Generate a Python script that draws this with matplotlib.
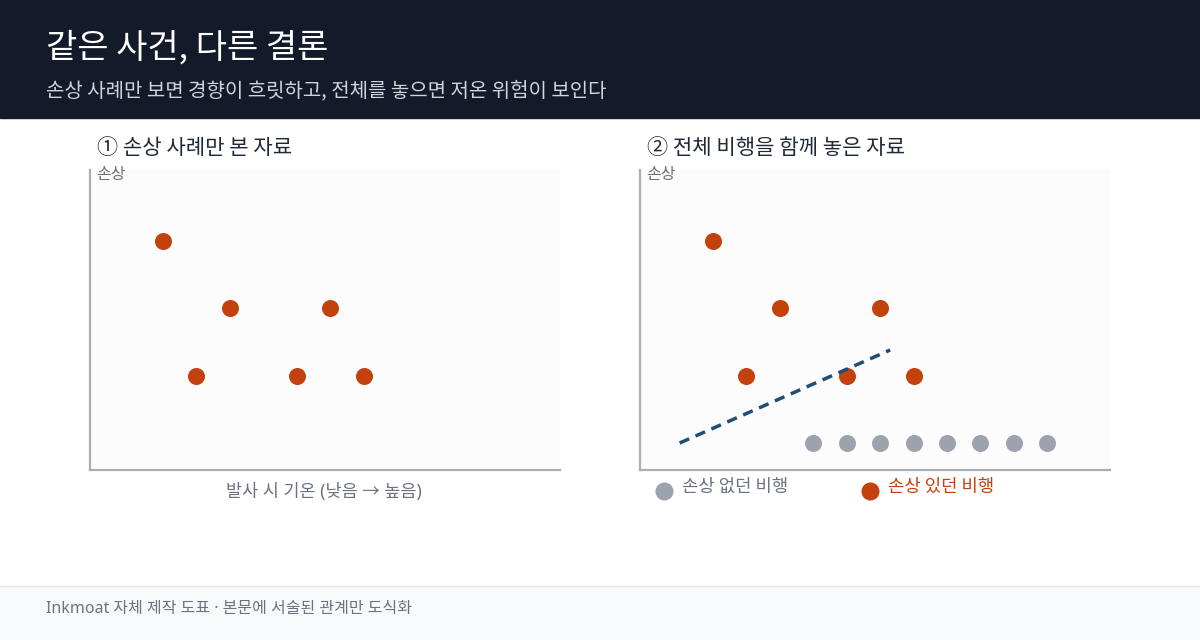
import matplotlib
matplotlib.use('Agg')
import matplotlib.pyplot as plt
from matplotlib.patches import Rectangle
from matplotlib.lines import Line2D

plt.rcParams['font.family'] = ['Noto Sans CJK KR', 'DejaVu Sans']
LATIN_FIRST = ['Noto Sans', 'Noto Sans CJK KR', 'DejaVu Sans']

# data: x = launch temperature rank (low -> high), y = damage level
damage_x = [1, 2, 3, 5, 6, 7]
damage_y = [3, 1, 2, 1, 2, 1]
nodamage_x = [4, 5, 6, 7, 8, 9, 10, 11]
nodamage_y = [0, 0, 0, 0, 0, 0, 0, 0]
trend_x = [0.0, 6.3]
trend_y = [0.0, 1.38]

title = '같은 사건, 다른 결론'
subtitle = '손상 사례만 보면 경향이 흐릿하고, 전체를 놓으면 저온 위험이 보인다'
panel_titles = ['① 손상 사례만 본 자료', '② 전체 비행을 함께 놓은 자료']
y_label = '손상'
x_label = '발사 시 기온 (낮음 → 높음)'
legend_labels = ['손상 없던 비행', '손상 있던 비행']
footer = 'Inkmoat 자체 제작 도표 · 본문에 서술된 관계만 도식화'

RED = '#c2410c'
GRAY = '#9ca3af'
NAVY = '#1f4e79'
SPINE = '#a9adb6'
MUTED = '#6b7280'

W, H = 1200, 640
fig = plt.figure(figsize=(W / 100, H / 100), dpi=100)
fig.patch.set_facecolor('white')

def px(x, y):
    return x / W, 1 - y / H

# header band and footer band
fig.add_artist(Rectangle((0, 1 - 118 / H), 1, 118 / H, transform=fig.transFigure, color='#131a2a', zorder=0))
fig.add_artist(Rectangle((0, 0), 1, 54 / H, transform=fig.transFigure, color='#f8f9fb', zorder=0))
fig.add_artist(Line2D([0, 1], [54 / H, 54 / H], transform=fig.transFigure, color='#e5e7eb', lw=1))
fig.text(*px(46, 48), title, color='white', fontsize=24.5, va='center', ha='left')
fig.text(*px(46, 91), subtitle, color='#d1d5db', fontsize=14.4, va='center', ha='left')
fig.text(*px(46, 609), footer, color=MUTED, fontsize=11.5, va='center', ha='left', family=LATIN_FIRST)

def make_axes(left):
    ax = fig.add_axes([left / W, 1 - 470 / H, 470 / W, 300 / H])
    ax.set_facecolor('#fcfcfd')
    ax.set_xlim(-1.186, 12.88)
    ax.set_ylim(-0.4, 4.05)
    for s in ['top', 'right']:
        ax.spines[s].set_visible(False)
    for s in ['left', 'bottom']:
        ax.spines[s].set_color(SPINE)
        ax.spines[s].set_linewidth(1.6)
    ax.set_xticks([]); ax.set_yticks([])
    fig.text(*px(left + 6, 174), y_label, color=MUTED, fontsize=11.5, va='center', ha='left')
    return ax

ax1 = make_axes(90)
ax1.scatter(damage_x, damage_y, s=150, color=RED, linewidths=0, zorder=3)
fig.text(*px(97, 148), panel_titles[0], color='#1f2937', fontsize=15.2, va='center', ha='left')
fig.text(*px(324, 492), x_label, color=MUTED, fontsize=12.6, va='center', ha='center', family=LATIN_FIRST)

ax2 = make_axes(640)
ax2.scatter(nodamage_x, nodamage_y, s=150, color=GRAY, linewidths=0, zorder=3)
ax2.scatter(damage_x, damage_y, s=150, color=RED, linewidths=0, zorder=3)
ax2.plot(trend_x, trend_y, color=NAVY, lw=2.5, ls=(0, (3, 2)), zorder=4)
fig.text(*px(647, 148), panel_titles[1], color='#1f2937', fontsize=15.2, va='center', ha='left')

# legend row
for cx, col, lab in [(664, GRAY, legend_labels[0]), (870, RED, legend_labels[1])]:
    fig.add_artist(Line2D([cx / W], [1 - 491 / H], marker='o', markersize=12, color=col, lw=0, transform=fig.transFigure))
    fig.text(*px(cx + 18, 487), lab, color=MUTED if col == GRAY else RED, fontsize=12.8, va='center', ha='left')

fig.savefig('out.png', dpi=100)
